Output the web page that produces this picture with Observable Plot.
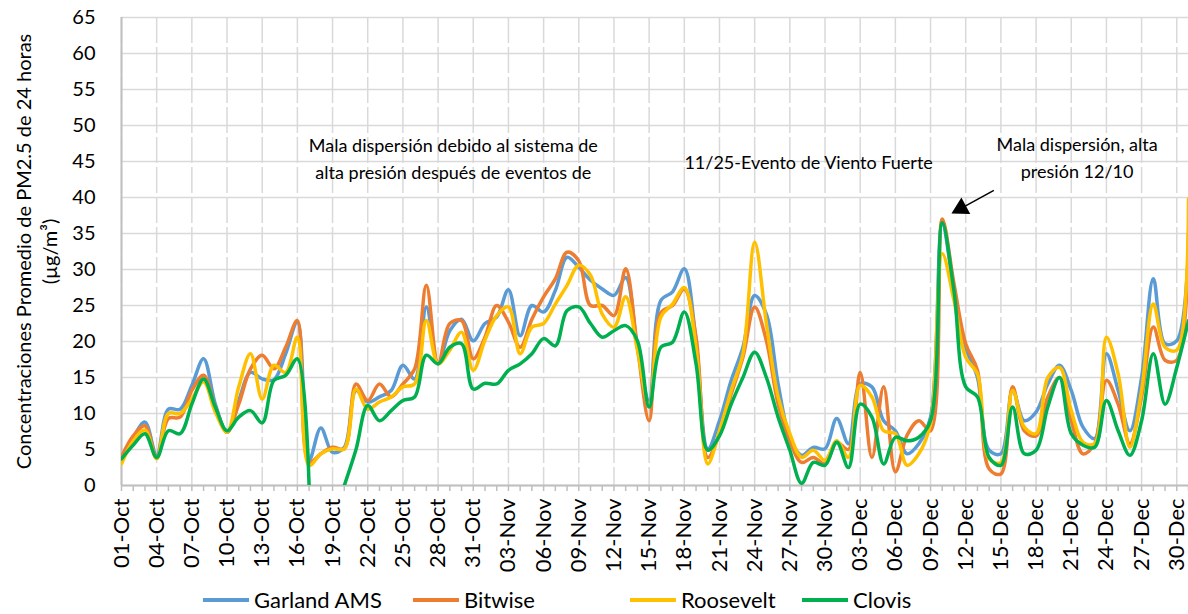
<!DOCTYPE html>
<html>
<head>
<meta charset="utf-8">
<script src="https://cdn.jsdelivr.net/npm/d3@7"></script>
<script src="https://cdn.jsdelivr.net/npm/@observablehq/plot@0.6"></script>
<style>
  html, body { margin: 0; padding: 0; background: #fff; }
  #wrap { position: relative; width: 1188px; height: 614px; font-family: Lato, sans-serif; }
  #legend { position: absolute; left: 0; top: 586px; width: 1188px; height: 28px; }
  .item { position: absolute; top: 0; display: flex; align-items: center; font-size: 22px; color: #000; white-space: nowrap; }
  .sw { display: inline-block; width: 46px; height: 4px; margin-right: 5px; }
</style>
</head>
<body>
<div id="wrap"><div id="chart"></div><div id="legend"></div></div>
<script>
// ---- data ----
const seriesNames = ["Garland AMS", "Bitwise", "Roosevelt", "Clovis"];
const seriesColors = ["#5B9BD5", "#ED7D31", "#FFC000", "#00B050"];

// day index 0 = 01-Oct ... 91 = 31-Dec
const garland = [3.9,6.7,8.8,4.2,10.6,10.6,13.9,17.6,11.3,7.4,11.8,15.7,14.8,14.7,18.3,22.7,3.5,8.0,4.6,5.3,13.2,11.6,12.3,13.2,16.7,14.8,24.8,16.9,21.5,23.1,20.1,
  22.5,23.4,27.2,20.8,25.0,24.1,27.1,31.7,30.3,28.5,27.3,26.4,28.9,19.2,11.8,25.7,26.9,30.1,20.1,5.1,9.0,14.6,19.2,26.4,23.8,14.1,6.7,4.2,5.3,5.1,
  9.3,5.8,14.1,13.7,9.0,7.6,4.4,5.8,9.5,36.3,27.1,19.2,15.0,4.9,4.4,13.2,9.0,10.2,14.1,16.7,13.2,8.1,6.5,18.3,13.2,7.6,15.0,28.7,19.7,20.1,33.0];
const bitwise = [4.0,6.9,8.3,3.9,9.3,9.5,13.2,15.3,10.9,7.4,11.3,16.2,18.1,16.2,19.2,22.9,3.2,4.4,5.3,5.1,14.1,11.8,14.1,12.3,14.1,16.2,27.8,16.9,22.5,22.9,17.6,
  20.6,25.0,22.7,19.2,23.1,26.2,28.7,32.4,31.2,25.0,25.0,23.6,30.1,19.2,9.0,24.0,25.0,27.3,20.6,3.9,7.2,12.7,17.8,24.8,20.1,11.3,6.2,3.2,3.9,3.0,
  6.0,5.0,15.7,3.9,13.7,1.9,7.0,9.0,7.6,37.0,28.0,19.7,16.0,2.3,1.6,13.7,7.6,6.9,12.3,15.0,9.0,4.4,5.8,14.6,11.3,5.8,12.3,22.0,17.4,17.4,35.0];
const roosevelt = [3.0,6.2,7.7,3.7,10.0,10.0,12.0,14.4,10.2,7.4,13.7,18.3,12.0,16.7,15.7,20.6,2.8,4.4,5.1,5.1,13.4,10.6,11.6,12.3,13.7,14.1,22.9,16.9,18.8,21.3,16.0,
  20.2,23.6,24.8,18.3,22.0,22.5,25.2,27.8,30.6,29.2,23.8,22.0,26.2,18.8,11.1,23.4,25.2,27.5,19.2,3.0,7.6,13.2,18.3,33.8,22.5,12.3,7.2,3.9,4.9,3.5,
  6.2,3.9,13.9,12.3,7.6,7.2,2.8,4.4,8.6,32.2,25.7,17.8,15.5,3.7,3.2,13.2,8.1,7.2,15.0,16.4,10.4,6.0,5.8,20.6,15.5,5.3,13.2,25.2,19.2,18.8,39.8];
const clovis = [3.7,5.6,7.2,3.9,7.6,7.2,11.3,14.8,10.9,7.6,9.5,10.4,8.7,14.6,15.3,17.6,0,null,null,0,5.0,11.1,9.0,10.4,11.8,12.3,18.1,16.9,19.2,19.7,13.4,
  14.2,14.1,16.0,16.9,18.3,20.4,19.4,24.3,24.8,22.5,20.6,21.5,22.2,20.1,10.9,19.2,19.9,24.1,16.9,4.9,6.9,11.3,15.0,18.5,15.0,9.5,4.9,0.3,3.2,2.8,
  6.0,2.5,11.3,9.5,3.0,6.7,6.2,6.7,9.0,36.5,27.0,13.7,12.3,3.9,2.8,10.9,4.4,4.9,10.9,15.0,7.2,5.6,5.3,11.8,7.6,4.2,9.0,18.3,11.3,16.4,22.9];

const xTickLabels = ["01-Oct","04-Oct","07-Oct","10-Oct","13-Oct","16-Oct","19-Oct","22-Oct","25-Oct","28-Oct","31-Oct",
  "03-Nov","06-Nov","09-Nov","12-Nov","15-Nov","18-Nov","21-Nov","24-Nov","27-Nov","30-Nov",
  "03-Dec","06-Dec","09-Dec","12-Dec","15-Dec","18-Dec","21-Dec","24-Dec","27-Dec","30-Dec"];
const yTicks = [0,5,10,15,20,25,30,35,40,45,50,55,60,65];
const yTitle = "Concentraciones Promedio de PM2.5 de 24 horas\n(µg/m³)";

const annotations = [
  {day: 28.3, value: 45.6, text: "Mala dispersión debido al sistema de\nalta presión después de eventos de"},
  {day: 58.6, value: 45.1, text: "11/25-Evento de Viento Fuerte"},
  {day: 81.5, value: 45.8, text: "Mala dispersión, alta\npresión 12/10"}
];
const arrowNote = {fromDay: 74.4, fromValue: 41.0, toDay: 71.6, toValue: 38.5};

// ---- build table ----
const allSeries = [garland, bitwise, roosevelt, clovis];
const rows = [];
allSeries.forEach((vals, i) => vals.forEach((v, d) => rows.push({series: seriesNames[i], day: d, value: v})));
const tickDays = xTickLabels.map((_, i) => i * 3);
const allDays = d3.range(garland.length);

const chart = Plot.plot({
  width: 1188,
  height: 588,
  marginLeft: 121,
  marginRight: 0,
  marginTop: 17,
  marginBottom: 103,
  style: {fontFamily: "Lato, sans-serif", fontSize: "20px", color: "#000", background: "#fff", overflow: "visible"},
  x: {domain: [0, 91], axis: null},
  y: {domain: [0, 65], axis: null},
  color: {domain: seriesNames, range: seriesColors},
  marks: [
    Plot.gridY(yTicks, {stroke: "#d9d9d9", strokeOpacity: 1, strokeWidth: 1.5}),
    Plot.gridX(tickDays, {stroke: "#d9d9d9", strokeOpacity: 1, strokeWidth: 1.5, strokeDasharray: "26,4"}),
    Plot.ruleX([0], {stroke: "#bfbfbf", strokeWidth: 2}),
    Plot.ruleY([0], {stroke: "#bfbfbf", strokeWidth: 2}),
    Plot.axisX(allDays, {tickSize: 6, tickFormat: () => "", stroke: "#bfbfbf", strokeWidth: 1.5}),
    Plot.axisX(tickDays, {tickSize: 0, tickPadding: 13, tickRotate: -90, fontSize: 22, fill: "#000",
      tickFormat: d => xTickLabels[Math.round(d / 3)]}),
    Plot.axisY(yTicks, {tickSize: 0, tickPadding: 26, fontSize: 20, fill: "#000", label: null}),
    Plot.text([yTitle], {frameAnchor: "left", textAnchor: "middle", text: d => d, rotate: -90, dx: -86, fontSize: 20, lineHeight: 1.3, fill: "#000"}),
    Plot.line(rows, {x: "day", y: "value", z: "series", stroke: "series", strokeWidth: 3.5,
      curve: "catmull-rom", clip: true, strokeLinejoin: "round", strokeLinecap: "round"}),
    Plot.text(annotations, {x: "day", y: "value", text: "text", fontSize: 18, lineHeight: 1.5, fill: "#000"}),
    Plot.link([arrowNote], {x1: "fromDay", y1: "fromValue", x2: "toDay", y2: "toValue", stroke: "#000", strokeWidth: 1.5}),
    Plot.dot([arrowNote], {x: "toDay", y: "toValue", symbol: "triangle", r: 7, fill: "#000", stroke: "none", rotate: 242})
  ]
});
document.getElementById("chart").appendChild(chart);

// legend
const legendLeft = [203, 413, 630, 802];
const legend = document.getElementById("legend");
seriesNames.forEach((name, i) => {
  const item = document.createElement("div");
  item.className = "item";
  item.style.left = legendLeft[i] + "px";
  const sw = document.createElement("span");
  sw.className = "sw";
  sw.style.background = seriesColors[i];
  item.appendChild(sw);
  item.appendChild(document.createTextNode(name));
  legend.appendChild(item);
});
</script>
</body>
</html>
